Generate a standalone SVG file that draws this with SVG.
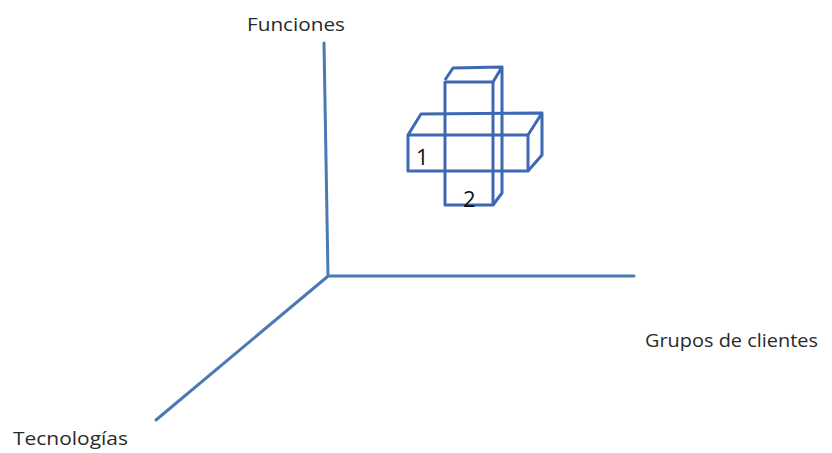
<svg xmlns="http://www.w3.org/2000/svg" width="832" height="453" viewBox="0 0 832 453">
  <style>
    .axis { fill: none; stroke: #4a7ab4; stroke-width: 3; stroke-linecap: round; }
    .box { fill: none; stroke: #3d68b2; stroke-width: 3; stroke-linejoin: round; }
    .label { font-family: "Open Sans", "Liberation Sans", sans-serif; font-size: 19px; fill: #2a2a2a; }
    .num { font-family: "Open Sans", "Liberation Sans", sans-serif; font-size: 22px; fill: #111; }
  </style>
  <rect width="832" height="453" fill="#ffffff"/>

  <!-- three axes meeting at the origin -->
  <g id="axes">
    <path class="axis" d="M324,43 L328,276"/>
    <path class="axis" d="M328,276 L634,276"/>
    <path class="axis" d="M327,277 L156,420"/>
  </g>

  <!-- axis titles -->
  <g id="label-funciones"><text class="label" x="247" y="31" textLength="98" lengthAdjust="spacingAndGlyphs">Funciones</text></g>
  <g id="label-grupos"><text class="label" x="645" y="347" textLength="173" lengthAdjust="spacingAndGlyphs">Grupos de clientes</text></g>
  <g id="label-tecnologias"><text class="label" x="13" y="445" textLength="115" lengthAdjust="spacingAndGlyphs">Tecnologías</text></g>

  <!-- horizontal block (1) -->
  <g id="block-1">
    <rect class="box" x="408" y="135" width="120" height="36"/>
    <path class="box" d="M408,135 L421,114 L542,113 L528,135 M542,113 L542,155 L528,171"/>
    <text class="num" x="416" y="165">1</text>
  </g>

  <!-- vertical block (2) -->
  <g id="block-2">
    <rect class="box" x="445" y="82" width="48" height="123"/>
    <path class="box" d="M445,80 L453,68 L502,67 L493,82 M502,67 L502,193 L493,205"/>
    <text class="num" x="463" y="207">2</text>
  </g>
</svg>
